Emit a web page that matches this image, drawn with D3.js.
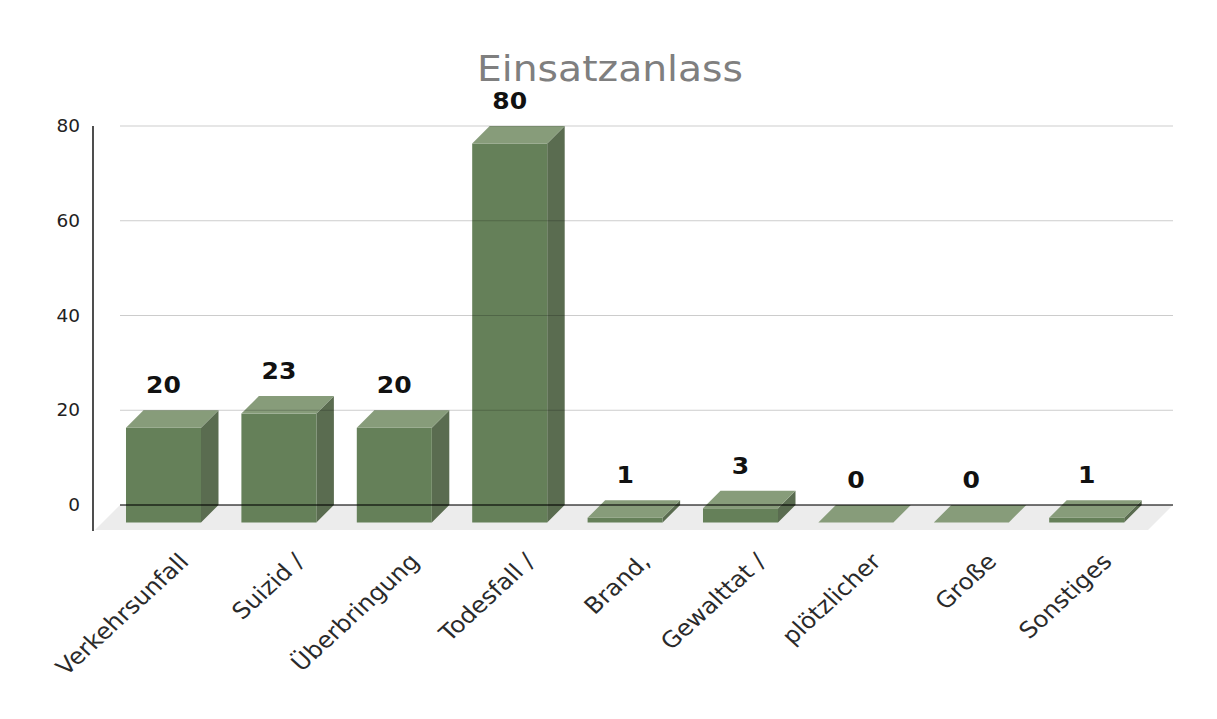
<!DOCTYPE html>
<html>
<head>
<meta charset="utf-8">
<script src="https://cdn.jsdelivr.net/npm/d3@7"></script>
<style>
  html, body { margin: 0; padding: 0; background: #ffffff; }
  svg { display: block; }
</style>
</head>
<body>
<script>
const categories = ["Verkehrsunfall", "Suizid /", "Überbringung", "Todesfall /", "Brand,", "Gewalttat /", "plötzlicher", "Große", "Sonstiges"];
const values = [20, 23, 20, 80, 1, 3, 0, 0, 1];
const yTicks = [0, 20, 40, 60, 80];
const chartTitle = "Einsatzanlass";

const W = 1217, H = 719;
const depthX = 17.5, depthY = 17.5;
const stretch = 1.09;

const svg = d3.select("body").append("svg").attr("width", W).attr("height", H);
svg.append("rect").attr("width", W).attr("height", H).attr("fill", "#ffffff");

// Scales (back plane)
const x = d3.scaleBand().domain(categories).range([123.3, 1161.9]).paddingInner(0.35).paddingOuter(0.175);
const y = d3.scaleLinear().domain([0, 80]).range([505, 126]);
const gridLeft = 120, gridRight = 1173;

// Title
svg.append("text")
  .attr("x", 610).attr("y", 81)
  .attr("text-anchor", "middle")
  .attr("font-family", "DejaVu Sans")
  .attr("font-size", 36)
  .attr("fill", "#7f7f7f")
  .attr("textLength", 266)
  .attr("lengthAdjust", "spacingAndGlyphs")
  .text(chartTitle);

// Floor
const floorDepth = 25;
svg.append("path")
  .attr("d", `M${gridLeft},${y(0)} L${gridRight},${y(0)} L${gridRight - floorDepth},${y(0) + floorDepth} L${gridLeft - floorDepth},${y(0) + floorDepth} Z`)
  .attr("fill", "#ececec");

// Bars
const bw = x.bandwidth();
const bars = svg.append("g");
categories.forEach((c, i) => {
  const v = values[i];
  const bx = x(c) - depthX;       // front left
  const by = y(v) + depthY;       // front top
  const bb = y(0) + depthY;       // front bottom
  const g = bars.append("g");
  if (v > 0) {
    g.append("path")
      .attr("d", `M${bx + bw},${by} L${bx + bw + depthX},${by - depthY} L${bx + bw + depthX},${bb - depthY} L${bx + bw},${bb} Z`)
      .attr("fill", "#5a6c50");
    g.append("rect").attr("x", bx).attr("y", by).attr("width", bw).attr("height", bb - by)
      .attr("fill", "#658059");
  }
  g.append("path")
    .attr("d", `M${bx},${by} L${bx + depthX},${by - depthY} L${bx + bw + depthX},${by - depthY} L${bx + bw},${by} Z`)
    .attr("fill", "#879c7a");
});

// Gridlines (drawn over bars, translucent)
svg.append("g").selectAll("line").data(yTicks.filter(t => t !== 0)).join("line")
  .attr("x1", gridLeft).attr("x2", gridRight)
  .attr("y1", d => y(d)).attr("y2", d => y(d))
  .attr("stroke", "rgba(0,0,0,0.2)").attr("stroke-width", 1.2);

// Zero line
svg.append("line")
  .attr("x1", gridLeft).attr("x2", gridRight)
  .attr("y1", y(0)).attr("y2", y(0))
  .attr("stroke", "rgba(0,0,0,0.72)").attr("stroke-width", 1.5);

// Y axis line
svg.append("line")
  .attr("x1", 93).attr("x2", 93)
  .attr("y1", y(80)).attr("y2", y(0) + floorDepth + 1)
  .attr("stroke", "#222").attr("stroke-width", 1.6);

// Y tick labels
svg.append("g").selectAll("text").data(yTicks).join("text")
  .attr("transform", d => `translate(80,${y(d)}) scale(${stretch},1)`)
  .attr("dy", "0.36em")
  .attr("text-anchor", "end")
  .attr("font-family", "DejaVu Sans")
  .attr("font-size", 17)
  .attr("fill", "#222")
  .text(d => d);

// Value labels
svg.append("g").selectAll("text").data(categories).join("text")
  .attr("transform", (c, i) => `translate(${x(c) - depthX + bw / 2},${y(values[i]) - 17}) scale(${stretch},1)`)
  .attr("text-anchor", "middle")
  .attr("font-family", "DejaVu Sans")
  .attr("font-weight", "bold")
  .attr("font-size", 23)
  .attr("fill", "#111")
  .text((c, i) => values[i]);

// X labels
svg.append("g").selectAll("text").data(categories).join("text")
  .attr("transform", c => `translate(${x(c) - depthX + bw / 2 + 26.5},563) scale(${stretch},1) rotate(-45)`)
  .attr("text-anchor", "end")
  .attr("font-family", "DejaVu Sans")
  .attr("font-size", 22.5)
  .attr("fill", "#2a2a2a")
  .text(c => c);
</script>
</body>
</html>
